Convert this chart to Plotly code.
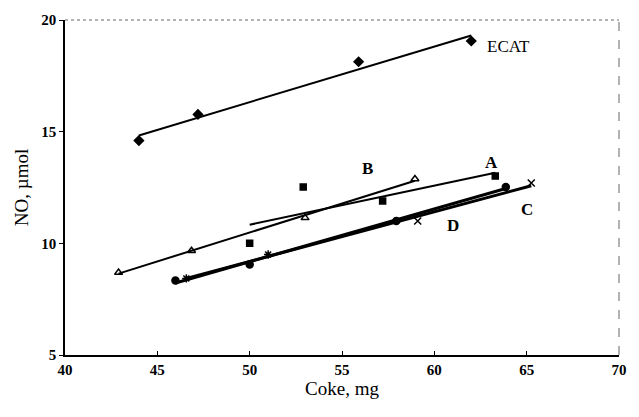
import numpy as np
import plotly.graph_objects as go

# Data
ecat_x = [44.0, 47.2, 55.9, 62.0]
ecat_y = [14.6, 15.77, 18.13, 19.06]

a_x = [50.0, 52.9, 57.2, 63.3]
a_y = [10.0, 12.52, 11.9, 13.01]

b_x = [42.9, 46.85, 53.0, 58.95]
b_y = [8.69, 9.67, 11.14, 12.88]

c_x = [46.57, 51.0, 59.1, 65.25]
c_y = [8.43, 9.5, 11.0, 12.7]

d_x = [45.98, 50.0, 57.94, 63.87]
d_y = [8.34, 9.05, 11.0, 12.52]

labels = ["ECAT", "B", "A", "C", "D"]
label_x = [64.0, 56.4, 63.1, 65.0, 61.0]
label_y = [18.8, 13.37, 13.6, 11.53, 10.8]

x_ticks = [40, 45, 50, 55, 60, 65, 70]
y_ticks = [5, 10, 15, 20]

FONT = "Liberation Serif"
fig = go.Figure()

series = [
    (ecat_x, ecat_y, "diamond", 7, 2.0),
    (a_x, a_y, "square", 6, 2.0),
    (b_x, b_y, "triangle-up-open", 7, 2.0),
    (c_x, c_y, ["asterisk-open", "asterisk-open", "x-thin-open", "x-thin-open"], 7, 3.0),
    (d_x, d_y, "circle", 7, 3.0),
]

for xs, ys, sym, size, lw in series:
    k, b = np.polyfit(xs, ys, 1)
    xl = [min(xs), max(xs)]
    yl = [k * v + b for v in xl]
    fig.add_trace(go.Scatter(x=xl, y=yl, mode="lines",
                             line=dict(color="black", width=lw),
                             showlegend=False, hoverinfo="skip"))
    fig.add_trace(go.Scatter(x=xs, y=ys, mode="markers",
                             marker=dict(symbol=sym, size=size, color="black",
                                         line=dict(color="black", width=1.5)),
                             showlegend=False))

for t, lx, ly in zip(labels, label_x, label_y):
    fig.add_annotation(x=lx, y=ly, text="<b>" + t + "</b>" if t != "ECAT" else t,
                       showarrow=False,
                       font=dict(family=FONT, size=17, color="black"))

# dashed top/right frame
fig.add_shape(type="line", xref="paper", yref="paper", x0=0, x1=1, y0=1, y1=1,
              line=dict(color="#666", width=1, dash="dot"))
fig.add_shape(type="line", xref="paper", yref="paper", x0=1, x1=1, y0=0, y1=1,
              line=dict(color="#666", width=1, dash="dash"))

fig.update_layout(
    width=639, height=417,
    margin=dict(l=65, r=12, t=17, b=62),
    paper_bgcolor="white", plot_bgcolor="white",
    font=dict(family=FONT, color="black"),
    xaxis=dict(range=[40, 70], tickvals=x_ticks,
               ticktext=["<b>%d</b>" % v for v in x_ticks],
               showgrid=False, zeroline=False,
               showline=True, linecolor="black", linewidth=1.5,
               ticks="inside", ticklen=4, tickcolor="black",
               tickfont=dict(family=FONT, size=15, color="black"),
               title=dict(text="Coke, mg", font=dict(family=FONT, size=19), standoff=2)),
    yaxis=dict(range=[5, 20], tickvals=y_ticks,
               ticktext=["<b>%d</b>" % v for v in y_ticks],
               showgrid=False, zeroline=False,
               showline=True, linecolor="black", linewidth=1.5,
               ticks="outside", ticklen=4, tickcolor="black",
               tickfont=dict(family=FONT, size=15, color="black"),
               title=dict(text="NO, µmol", font=dict(family=FONT, size=19), standoff=8)),
)

fig.write_html("out.html")
